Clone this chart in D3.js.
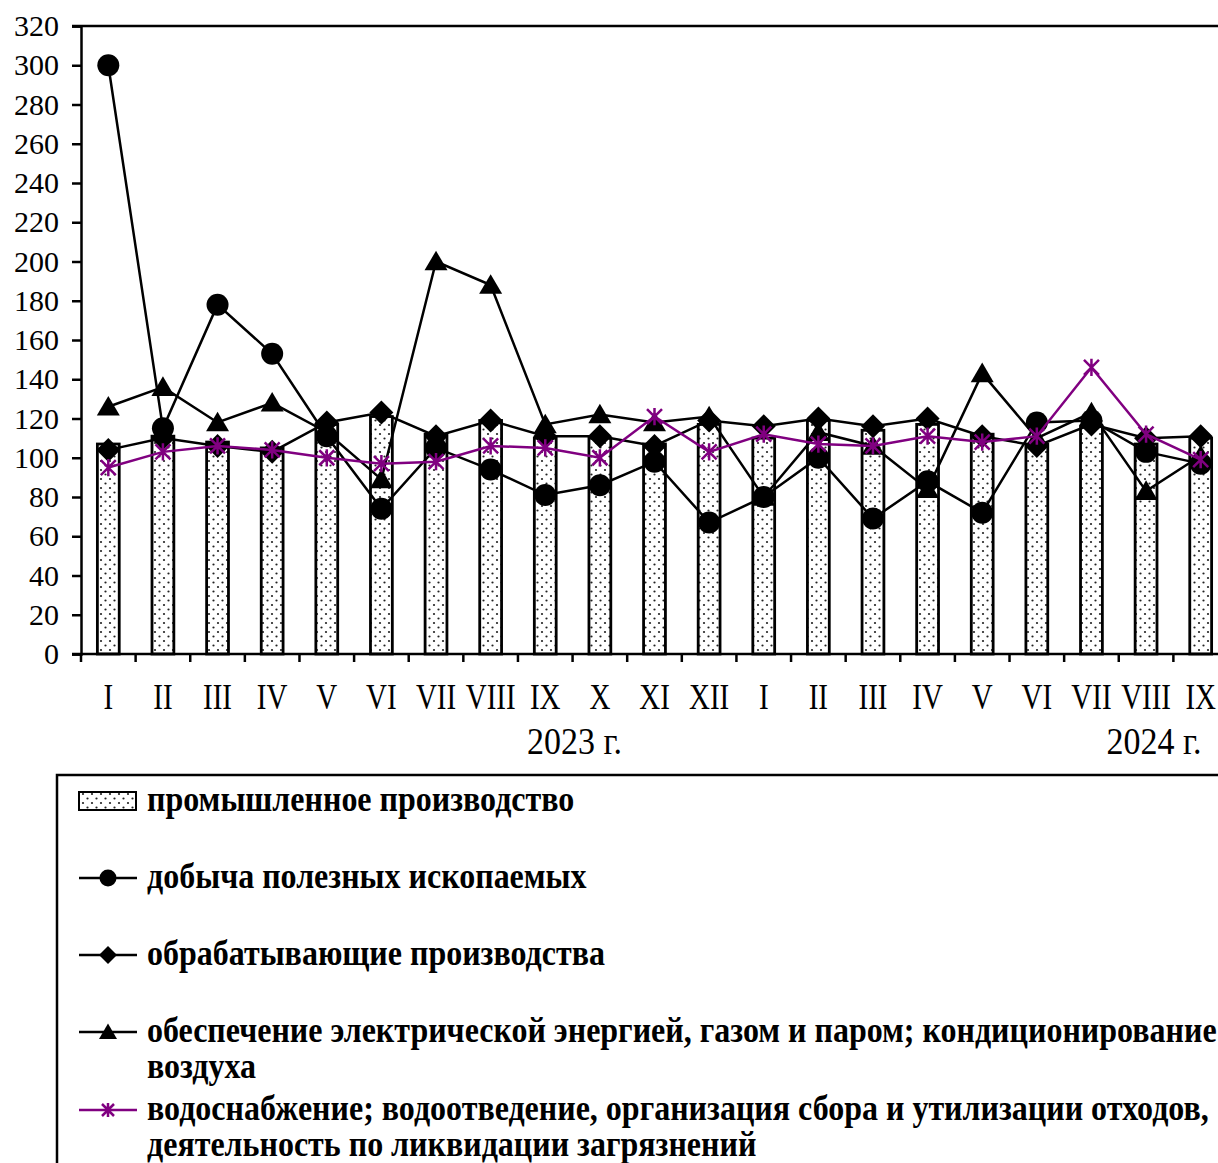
<!DOCTYPE html>
<html>
<head>
<meta charset="utf-8">
<script src="https://cdn.jsdelivr.net/npm/d3@7"></script>
<style>
  html, body { margin: 0; padding: 0; background: #fff; overflow: hidden; }
  svg { display: block; }
  text { font-family: "Liberation Serif", "Times New Roman", serif; fill: #000; }
</style>
</head>
<body>
<svg id="chart" width="1218" height="1163"></svg>
<script>
// ---- data ----
const months = ["I","II","III","IV","V","VI","VII","VIII","IX","X","XI","XII",
                "I","II","III","IV","V","VI","VII","VIII","IX"];
const yearLabels = ["2023 г.", "2024 г."];
const yTicks = [0,20,40,60,80,100,120,140,160,180,200,220,240,260,280,300,320];

const industry      = [107,111,108,105,117,121,112,119,110,110,107,117,110,119,114,117,112,107,116,107,110];
const mining        = [300,115,178,153,111,74,105,94,81,86,98,67,80,100,69,88,72,118,119,103,97];
const manufacturing = [104,110,106,103,118,123,111,119,111,111,106,119,116,120,116,120,111,106,117,110,111];
const electricity   = [126,136,118,128,113,89,200,188,117,122,118,121,80,113,106,84,143,110,123,83,101];
const water         = [95,103,106,104,100,97,98,106,105,100,121,103,112,107,106,111,108,111,146,112,99];

const seriesNames = [
  "промышленное производство",
  "добыча полезных ископаемых",
  "обрабатывающие производства",
  "обеспечение электрической энергией, газом и паром; кондиционирование|воздуха",
  "водоснабжение; водоотведение, организация сбора и утилизации отходов,|деятельность по ликвидации загрязнений"
];

(function () {
// ---- layout ----
const svg = d3.select("#chart");
const pLeft = 81, pRight = 1228, pTop = 26, pBottom = 654;
const PURPLE = "#800080";

const x = d3.scaleBand().domain(d3.range(months.length)).range([pLeft, pRight])
  .paddingInner(0.6).paddingOuter(0.3);
const y = d3.scaleLinear().domain([0, 320]).range([pBottom, pTop]);
const cx = i => x(i) + x.bandwidth() / 2;

// pattern for bars
const defs = svg.append("defs");
const pat = defs.append("pattern").attr("id", "dots").attr("patternUnits", "userSpaceOnUse")
  .attr("width", 9).attr("height", 9);
pat.append("rect").attr("width", 9).attr("height", 9).attr("fill", "#fff");
pat.append("circle").attr("cx", 2).attr("cy", 2).attr("r", 1.1).attr("fill", "#222");
pat.append("circle").attr("cx", 6.5).attr("cy", 6.5).attr("r", 1.1).attr("fill", "#222");

// bars
svg.append("g").selectAll("rect").data(industry).join("rect")
  .attr("x", (d, i) => x(i)).attr("width", x.bandwidth())
  .attr("y", d => y(d)).attr("height", d => y(0) - y(d))
  .attr("fill", "url(#dots)").attr("stroke", "#000").attr("stroke-width", 2.8);

// frame lines
svg.append("line").attr("x1", pLeft - 9).attr("x2", pRight).attr("y1", pTop).attr("y2", pTop)
  .attr("stroke", "#000").attr("stroke-width", 2.5);
svg.append("line").attr("x1", pRight).attr("x2", pRight).attr("y1", pTop).attr("y2", pBottom)
  .attr("stroke", "#000").attr("stroke-width", 2.5);

// y axis
const yAxis = svg.append("g").attr("transform", `translate(${pLeft},0)`)
  .call(d3.axisLeft(y).tickValues(yTicks).tickSize(9).tickPadding(13).tickFormat(d3.format("d")));
yAxis.select(".domain").attr("stroke-width", 2.5);
yAxis.selectAll(".tick line").attr("stroke-width", 2.5);
yAxis.selectAll(".tick text").style("font-size", "30px").attr("font-family", "Liberation Serif");

// x axis: boundary ticks
const bounds = d3.range(months.length + 1).map(i => pLeft + i * x.step());
svg.append("line").attr("x1", pLeft - 9).attr("x2", pRight).attr("y1", pBottom).attr("y2", pBottom)
  .attr("stroke", "#000").attr("stroke-width", 2.5);
svg.append("g").selectAll("line").data(bounds).join("line")
  .attr("x1", d => d).attr("x2", d => d).attr("y1", pBottom).attr("y2", pBottom + 8)
  .attr("stroke", "#000").attr("stroke-width", 2.5);

svg.append("g").selectAll("text").data(months).join("text")
  .attr("transform", (d, i) => `translate(${cx(i)},${pBottom + 55}) scale(1,1.25)`)
  .attr("text-anchor", "middle").style("font-size", "29px").text(d => d);

const yearPos = [ (cx(8) + cx(9)) / 2 + 2, cx(19) + 8 ];
svg.append("g").selectAll("text").data(yearLabels).join("text")
  .attr("transform", (d, i) => `translate(${yearPos[i]},${pBottom + 100}) scale(1,1.12)`)
  .attr("text-anchor", "middle").style("font-size", "34px").text(d => d);

// symbols
function drawMarker(g, type, px, py, s, color) {
  if (type === "circle") {
    g.append("circle").attr("cx", px).attr("cy", py).attr("r", s).attr("fill", color);
  } else if (type === "diamond") {
    g.append("path").attr("d", `M${px},${py - s}L${px + s},${py}L${px},${py + s}L${px - s},${py}Z`).attr("fill", color);
  } else if (type === "triangle") {
    const h = s * 1.7;
    g.append("path").attr("d", `M${px},${py - h * 0.55}L${px + s},${py + h * 0.45}L${px - s},${py + h * 0.45}Z`).attr("fill", color);
  } else if (type === "star") {
    const a = s;
    g.append("path").attr("d",
      `M${px - a},${py - a}L${px + a},${py + a}M${px - a},${py + a}L${px + a},${py - a}M${px},${py - a * 1.15}L${px},${py + a * 1.15}`)
      .attr("stroke", color).attr("stroke-width", 2.5).attr("fill", "none");
  }
}

const lineSeries = [
  { values: mining, type: "circle", size: 11, color: "#000" },
  { values: manufacturing, type: "diamond", size: 12, color: "#000" },
  { values: electricity, type: "triangle", size: 11.5, color: "#000" },
  { values: water, type: "star", size: 7.5, color: PURPLE }
];
const line = d3.line().x((d, i) => cx(i)).y(d => y(d));
lineSeries.forEach(s => {
  const g = svg.append("g");
  g.append("path").attr("d", line(s.values)).attr("fill", "none")
    .attr("stroke", s.color).attr("stroke-width", 2.5);
  s.values.forEach((v, i) => drawMarker(g, s.type, cx(i), y(v), s.size, s.color));
});

// legend
svg.append("rect").attr("x", 57).attr("y", 775).attr("width", 1300).attr("height", 500)
  .attr("fill", "none").attr("stroke", "#000").attr("stroke-width", 2.5);

const legY = [801, 878, 955, 1032, 1110];
const lg = svg.append("g");
lg.append("rect").attr("x", 79).attr("y", legY[0] - 9).attr("width", 57).attr("height", 18)
  .attr("fill", "url(#dots)").attr("stroke", "#000").attr("stroke-width", 2);
const legMarkers = [null, ["circle", 8.5, "#000"], ["diamond", 9, "#000"], ["triangle", 9, "#000"], ["star", 6, PURPLE]];
for (let k = 1; k < 5; k++) {
  const [t, s, c] = legMarkers[k];
  lg.append("line").attr("x1", 79).attr("x2", 137).attr("y1", legY[k]).attr("y2", legY[k])
    .attr("stroke", c).attr("stroke-width", 2.5);
  drawMarker(lg, t, 108, legY[k], s, c);
}
seriesNames.forEach((name, k) => {
  const parts = name.split("|");
  parts.forEach((p, j) => {
    lg.append("text")
      .attr("transform", `translate(147,${legY[k] + 10 + j * 36}) scale(1,1.1)`)
      .style("font-size", "32px").style("font-weight", "bold").text(p);
  });
});
})();
</script>
</body>
</html>
